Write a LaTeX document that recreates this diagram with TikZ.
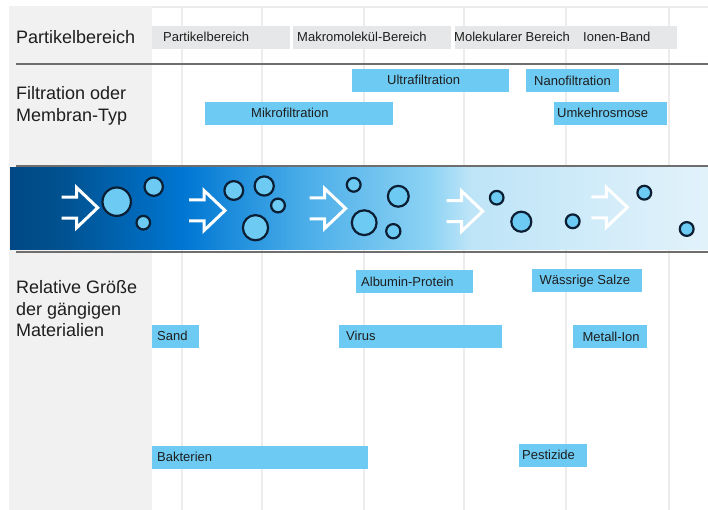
\documentclass[tikz,border=0pt]{standalone}
\usepackage{fontspec}
\setmainfont{Liberation Sans}

\definecolor{panelGray}{HTML}{F1F1F1}
\definecolor{tagGray}{HTML}{E6E7E8}
\definecolor{barBlue}{HTML}{6DCAF2}
\definecolor{gridGray}{HTML}{ECECEC}
\definecolor{ruleGray}{HTML}{6E6E6E}
\definecolor{bubbleLine}{HTML}{0B1E33}
\definecolor{textDark}{HTML}{1E1E1E}

% band colours, left to right
\definecolor{bandA}{HTML}{004985}
\definecolor{bandB}{HTML}{00518F}
\definecolor{bandC}{HTML}{0077D3}
\definecolor{bandD}{HTML}{48ACE8}
\definecolor{bandE}{HTML}{8DD3F4}
\definecolor{bandF}{HTML}{BDE4F7}
\definecolor{bandG}{HTML}{D2ECF9}
\definecolor{bandH}{HTML}{E2F2FB}

% path box is mapped on 25bp..75bp of the shading
\pgfdeclarehorizontalshading{bandshade}{100bp}{color(0bp)=(bandA); color(25bp)=(bandA);
  color(28.6bp)=(bandB); color(37.5bp)=(bandC); color(45.8bp)=(bandD);
  color(55.1bp)=(bandE); color(57.9bp)=(bandF); color(67.3bp)=(bandG);
  color(75bp)=(bandH); color(100bp)=(bandH)}

\begin{document}
\begin{tikzpicture}[x=1pt,y=-1pt,
    tag/.style={anchor=west, inner sep=0pt, text height=10pt, text depth=1pt,
      font=\fontsize{13}{15}\selectfont, text=textDark},
    rowlabel/.style={anchor=base west, inner sep=0pt,
      font=\fontsize{18}{21}\selectfont, text=textDark},
    graybar/.style={fill=tagGray},
    bluebar/.style={fill=barBlue},
    gridline/.style={draw=gridGray, line width=1.5pt},
    rule/.style={draw=ruleGray, line width=2pt},
    bubble/.style={fill=barBlue, draw=bubbleLine, line width=2.2pt},
    flow/.style={draw=white, line width=3pt},
    flowarrow/.pic={\draw[flow] (-36,-10.5) -- (-21,-10.5) -- (-21,-20) -- (0,0)
      -- (-21,20) -- (-21,10.5) -- (-36,10.5);}
  ]

    \useasboundingbox (0,0) rectangle (708,510);

    % --- Background ---
    \fill[white] (0,0) rectangle (708,510);
    \fill[panelGray] (9,6) rectangle (152,510);
    \draw[gridGray, line width=1.5pt] (152,7) -- (708,7);

    % Vertical grid lines of the size scale
    \draw[gridline] (182,7) -- (182,510);
    \draw[gridline] (262,7) -- (262,510);
    \draw[gridline] (364,7) -- (364,510);
    \draw[gridline] (464,7) -- (464,510);
    \draw[gridline] (566,7) -- (566,510);
    \draw[gridline] (669,7) -- (669,510);

    % --- Row 1: particle range ---
    \node[rowlabel] (lblRange) at (16,43.3) {Partikelbereich};

    \fill[graybar] (152,26) rectangle (290,49);
    \fill[graybar] (293,26) rectangle (451,49);
    \fill[graybar] (455,26) rectangle (677,49);
    \node[tag] (rangePart)  at (163,37.5) {Partikelbereich};
    \node[tag] (rangeMacro) at (297,37.5) {Makromolekül-Bereich};
    \node[tag] (rangeMol)   at (454,37.5) {Molekularer Bereich};
    \node[tag] (rangeIon)   at (583,37.5) {Ionen-Band};

    \draw[rule] (16,64.5) -- (708,64.5);

    % --- Row 2: filtration / membrane type ---
    \node[rowlabel] (lblFiltA) at (16,100) {Filtration oder};
    \node[rowlabel] (lblFiltB) at (16,121.7) {Membran-Typ};

    \fill[bluebar] (352,69) rectangle (509,92);
    \fill[bluebar] (526,69) rectangle (619,92);
    \fill[bluebar] (205,102) rectangle (393,125);
    \fill[bluebar] (554,102) rectangle (667,125);
    \node[tag] (filtUltra) at (387,80.5)  {Ultrafiltration};
    \node[tag] (filtNano)  at (534,81.5)  {Nanofiltration};
    \node[tag] (filtMikro) at (251,113.5) {Mikrofiltration};
    \node[tag] (filtRO)    at (557,113.5) {Umkehrosmose};

    \draw[rule] (16,166) -- (708,166);

    % --- Flow band ---
    \shade[shading=bandshade] (10,167.7) rectangle (708,250);

    \pic at (97.7,207.7) {flowarrow};
    \pic at (225,210.5)  {flowarrow};
    \pic at (345.6,208.5) {flowarrow};
    \pic at (482.7,211.2) {flowarrow};
    \pic at (627.3,207.3) {flowarrow};

    % Particles, shrinking from left to right
    \draw[bubble] (116.7,201.7) circle (14.2);
    \draw[bubble] (153.7,186.7) circle (9.2);
    \draw[bubble] (143.3,222.7) circle (6.8);
    \draw[bubble] (233.8,190.5) circle (9.4);
    \draw[bubble] (264.2,186.0) circle (9.6);
    \draw[bubble] (278.0,205.5) circle (6.9);
    \draw[bubble] (255.5,227.7) circle (12.6);
    \draw[bubble] (353.7,184.8) circle (6.9);
    \draw[bubble] (398.3,196.3) circle (10.4);
    \draw[bubble] (364.2,222.7) circle (12.4);
    \draw[bubble] (393.3,231.2) circle (7.1);
    \draw[bubble] (496.7,197.7) circle (6.8);
    \draw[bubble] (521.3,221.7) circle (10.0);
    \draw[bubble] (572.7,221.3) circle (6.9);
    \draw[bubble] (644.3,192.7) circle (6.9);
    \draw[bubble] (686.7,229.0) circle (6.9);

    \draw[rule] (16,252.3) -- (708,252.3);

    % --- Row 3: relative size of common materials ---
    \node[rowlabel] (lblSizeA) at (16,293.3) {Relative Größe};
    \node[rowlabel] (lblSizeB) at (16,315)   {der gängigen};
    \node[rowlabel] (lblSizeC) at (16,336)   {Materialien};

    \fill[bluebar] (356,270) rectangle (473,293);
    \fill[bluebar] (532,269) rectangle (641.5,292);
    \fill[bluebar] (152,325) rectangle (198.6,348);
    \fill[bluebar] (339,325) rectangle (501.6,348);
    \fill[bluebar] (573,325) rectangle (646.5,348);
    \fill[bluebar] (152,446) rectangle (368.4,469);
    \fill[bluebar] (518.7,444) rectangle (587.4,467);
    \node[tag] (matAlbumin)  at (361,282)   {Albumin-Protein};
    \node[tag] (matSalts)    at (539.5,280) {Wässrige Salze};
    \node[tag] (matSand)     at (157,336)   {Sand};
    \node[tag] (matVirus)    at (346,336)   {Virus};
    \node[tag] (matMetal)    at (582.4,337) {Metall-Ion};
    \node[tag] (matBacteria) at (157,457)   {Bakterien};
    \node[tag] (matPest)     at (522,455)   {Pestizide};

\end{tikzpicture}
\end{document}
